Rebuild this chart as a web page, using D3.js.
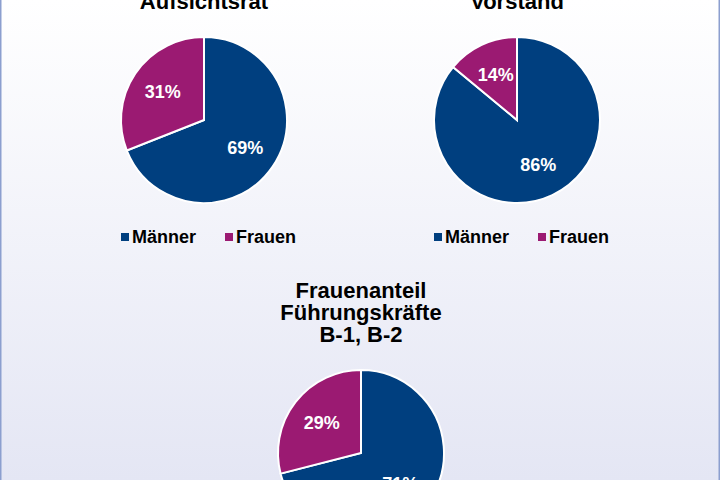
<!DOCTYPE html><html><head><meta charset="utf-8"><script src="https://cdn.jsdelivr.net/npm/d3@7"></script>
<style>body{margin:0}svg{display:block}</style></head><body><svg id="c" width="720" height="480"></svg>
<script>
const categories=["Männer","Frauen"];
const colors=["#003f7f","#9b1a72"];
const titles=[["Aufsichtsrat"],["Vorstand"],["Frauenanteil","Führungskräfte","B-1, B-2"]];
const valuesAufsichtsrat=[69,31];
const valuesVorstand=[86,14];
const valuesFuehrung=[71,29];
const svg=d3.select("#c");
const defs=svg.append("defs");
const g=defs.append("linearGradient").attr("id","bg").attr("x1",0).attr("y1",0).attr("x2",0).attr("y2",1);
g.append("stop").attr("offset","0%").attr("stop-color","#ffffff");
g.append("stop").attr("offset","100%").attr("stop-color","#e4e6f4");
svg.append("rect").attr("width",720).attr("height",480).attr("fill","url(#bg)");
svg.append("rect").attr("x",0.75).attr("y",-2).attr("width",718.5).attr("height",484).attr("fill","none").attr("stroke","#8c9fcf").attr("stroke-width",1.5);
const font="Liberation Sans, Arial, sans-serif";
const pies=[
 {v:valuesAufsichtsrat,cx:204,cy:120,t:titles[0],ty:[9],legend:true},
 {v:valuesVorstand,cx:517,cy:120,t:titles[1],ty:[9],legend:true},
 {v:valuesFuehrung,cx:361,cy:453,t:titles[2],ty:[298,320,342],legend:false}];
const r=83;
const pie=d3.pie().sort(null).value(d=>d);
const arc=d3.arc().innerRadius(0).outerRadius(r);
const lab=d3.arc().innerRadius(r*0.6).outerRadius(r*0.6);
pies.forEach(p=>{
 const gg=svg.append("g").attr("transform",`translate(${p.cx},${p.cy})`);
 const arcs=pie(p.v);
 gg.selectAll("path").data(arcs).join("path").attr("d",arc).attr("fill",(d,i)=>colors[i]).attr("stroke","#fff").attr("stroke-width",2);
 gg.selectAll("text").data(arcs).join("text").attr("transform",d=>`translate(${lab.centroid(d)})`)
  .attr("text-anchor","middle").attr("dy","0.35em").attr("fill","#fff").attr("font-family",font).attr("font-weight","bold").attr("font-size",18)
  .text(d=>d.data+"%");
 p.t.forEach((s,i)=>svg.append("text").attr("x",p.cx).attr("y",p.ty[i]).attr("text-anchor","middle").attr("font-family",font).attr("font-weight","bold").attr("font-size",22).attr("fill","#000").text(s));
 if(p.legend){
  const lg=svg.append("g").attr("transform",`translate(${p.cx},243)`);
  const offs=[-83,21];
  categories.forEach((c,i)=>{
   lg.append("rect").attr("x",offs[i]).attr("y",-10).attr("width",8).attr("height",8).attr("fill",colors[i]);
   lg.append("text").attr("x",offs[i]+11).attr("y",0).attr("font-family",font).attr("font-weight","bold").attr("font-size",18).text(c);
  });
 }
});
</script></body></html>
